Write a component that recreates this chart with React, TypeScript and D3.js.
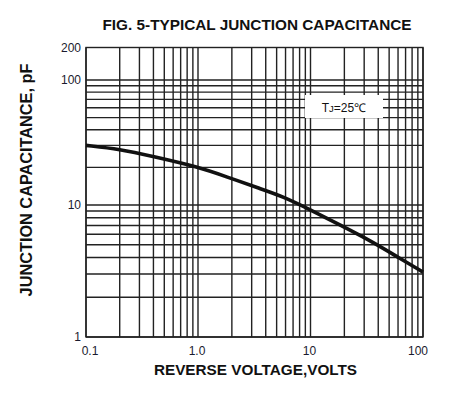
import React from "react";
import * as d3 from "d3";

// reverse voltage (V) vs junction capacitance (pF)
const voltage = [0.1, 0.2, 0.4, 1, 1.8, 3.5, 5.7, 10, 18, 35, 62, 100];
const capacitance = [30, 28, 24.4, 20.2, 16.8, 13.6, 11.7, 9.2, 7.1, 5.3, 3.95, 3.1];

const xTicks = [0.1, 1, 10, 100];
const xTickLabels = ["0.1", "1.0", "10", "100"];
const yTicks = [1, 10, 100, 200];
const yTickLabels = ["1", "10", "100", "200"];

const xGrid = [
  0.1, 0.2, 0.3, 0.4, 0.5, 0.6, 0.7, 0.8, 0.9,
  1, 2, 3, 4, 5, 6, 7, 8, 9,
  10, 20, 30, 40, 50, 60, 70, 80, 90, 100,
];
const yGrid = [1, 2, 3, 4, 5, 6, 7, 8, 9, 10, 20, 30, 40, 50, 60, 70, 80, 90, 100];

const W = 454;
const H = 395;
const font = "'Liberation Sans', Arial, sans-serif";

const App = () => {
  const x = d3.scaleLog().domain([0.1, 1, 10, 100]).range([86, 198, 310.5, 423]);
  const y = d3.scaleLog().domain([1, 10, 100, 200]).range([337, 205, 80, 47.5]);

  const line = d3
    .line<number>()
    .x((d, i) => x(voltage[i]))
    .y((d) => y(d))
    .curve(d3.curveBasis);

  const ink = "#222";

  return (
    <svg width={W} height={H} style={{ position: "absolute", left: 0, top: 0 }}>
      <rect width={W} height={H} fill="#fff" />
      <text x={257} y={30} textAnchor="middle" fontFamily={font} fontWeight="bold" fontSize={14} fill="#111"
        textLength={309} lengthAdjust="spacingAndGlyphs">
        FIG. 5-TYPICAL JUNCTION CAPACITANCE
      </text>

      {xGrid.map((v) => (
        <line key={"vx" + v} x1={x(v)} x2={x(v)} y1={y(200)} y2={y(1)} stroke={ink} strokeWidth={1.4} />
      ))}
      {yGrid.map((v) => (
        <line key={"hy" + v} x1={x(0.1)} x2={x(100)} y1={y(v)} y2={y(v)} stroke={ink} strokeWidth={1.4} />
      ))}
      <rect x={x(0.1)} y={y(200)} width={x(100) - x(0.1)} height={y(1) - y(200)} fill="none" stroke={ink} strokeWidth={1.4} />

      <path d={line(capacitance) || ""} fill="none" stroke="#111" strokeWidth={3.6} strokeLinecap="butt" />

      <rect x={305} y={95} width={78} height={23} fill="#fff" />
      <text x={344} y={111.5} textAnchor="middle" fontFamily={font} fontSize={12} fill="#111">
        T<tspan fontSize={9.5}>J</tspan>=25℃
      </text>

      {yTicks.map((v, i) => (
        <text key={"yt" + v} x={81} y={y(v) + 4} textAnchor="end" fontFamily={font} fontSize={12} fill="#1a1a2e">
          {yTickLabels[i]}
        </text>
      ))}
      {xTicks.map((v, i) => (
        <text key={"xt" + v} x={x(v) + (i === 0 ? 4 : i === xTicks.length - 1 ? -5 : -1)} y={355} textAnchor="middle" fontFamily={font} fontSize={12} fill="#1a1a2e">
          {xTickLabels[i]}
        </text>
      ))}

      <text x={255.5} y={375} textAnchor="middle" fontFamily={font} fontWeight="bold" fontSize={15.3} fill="#111">
        REVERSE VOLTAGE,VOLTS
      </text>
      <text
        transform={`translate(32,${180}) rotate(-90)`}
        textAnchor="middle"
        fontFamily={font}
        fontWeight="bold"
        fontSize={16.3}
        fill="#111"
      >
        JUNCTION CAPACITANCE, pF
      </text>
    </svg>
  );
};

export default App;
